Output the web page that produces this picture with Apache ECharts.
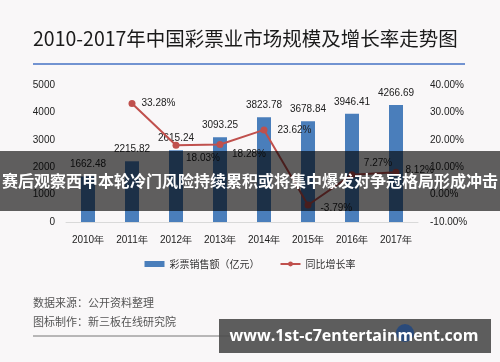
<!DOCTYPE html>
<html><head><meta charset="utf-8">
<script src="https://cdn.jsdelivr.net/npm/echarts@6/dist/echarts.min.js"></script>
<style>html,body{margin:0;padding:0;background:#f9f7f8}#c{width:500px;height:362px}</style>
</head><body><div id="c"></div>
<script>
var categories = ['2010年','2011年','2012年','2013年','2014年','2015年','2016年','2017年'];
var salesValues = [1662.48, 2215.82, 2615.24, 3093.25, 3823.78, 3678.84, 3946.41, 4266.69];
var growthValues = [null, 33.28, 18.03, 18.28, 23.62, -3.79, 7.27, 8.12];
var leftTicks = [0, 1000, 2000, 3000, 4000, 5000];
var rightTicks = [-10, 0, 10, 20, 30, 40];

var growthLabelPos = [null, 'right', 'bottom', 'bottom', 'right', 'right', 'top', 'right'];
var growthLabelOffset = [null, [0,0], [27,-1], [29,-5], [4,0], [3,3], [26,3], [0,-2]];
var growthData = growthValues.map(function(v, i){
  if (v === null) return '-';
  return {value: v, label: {position: growthLabelPos[i], offset: growthLabelOffset[i]}};
});

var font = "'Liberation Sans', sans-serif";
var cjk = "'Noto Sans CJK SC', sans-serif";
var chart = echarts.init(document.getElementById('c'), null, {renderer:'canvas'});
chart.setOption({
  backgroundColor: '#f9f7f8',
  animation: false,
  grid: {left: 66, right: 82, top: 85, bottom: 140, containLabel: false},
  legend: {
    bottom: 88, left: 'center',
    itemGap: 20, itemWidth: 20, itemHeight: 6,
    textStyle: {fontFamily: cjk, fontSize: 10, color: '#333'},
    data: [{name: '彩票销售额（亿元）', icon: 'rect'}, {name: '同比增长率'}]
  },
  xAxis: {
    type: 'category', data: categories,
    axisLine: {lineStyle: {color: '#d9d9d9'}},
    axisTick: {show: false},
    axisLabel: {interval: 0, fontFamily: font, fontSize: 10, color: '#222', margin: 13}
  },
  yAxis: [{
    type: 'value', min: leftTicks[0], max: leftTicks[leftTicks.length-1], interval: 1000,
    splitLine: {show: false}, axisLine: {show: false}, axisTick: {show: false},
    axisLabel: {fontFamily: font, fontSize: 10, color: '#222', margin: 11,
      formatter: function(v){ return String(v); }}
  }, {
    type: 'value', min: rightTicks[0], max: rightTicks[rightTicks.length-1], interval: 10,
    splitLine: {show: false}, axisLine: {show: false}, axisTick: {show: false},
    axisLabel: {fontFamily: font, fontSize: 10, color: '#222', margin: 12,
      formatter: function(v){ return v.toFixed(2) + '%'; }}
  }],
  series: [{
    name: '彩票销售额（亿元）', type: 'bar', data: salesValues, barWidth: 14,
    itemStyle: {color: '#4a7ebb'},
    label: {show: true, position: 'top', distance: 7, fontFamily: font, fontSize: 10, color: '#222',
      formatter: function(p){ return p.value.toFixed(2); }}
  }, {
    name: '同比增长率', type: 'line', yAxisIndex: 1, data: growthData,
    symbol: 'circle', symbolSize: 7,
    lineStyle: {color: '#c0504d', width: 2}, itemStyle: {color: '#c0504d'},
    label: {show: true, fontFamily: font, fontSize: 10, color: '#222', distance: 6,
      formatter: function(p){ return p.value.toFixed(2) + '%'; }}
  }],
  graphic: [
    {type: 'text', left: 33, top: 29, z: 100, style: {text: '2010-2017年中国彩票业市场规模及增长率走势图', font: "19.5px 'Noto Sans CJK SC', sans-serif", fill: '#1a1a1a'}},
    {type: 'line', z: 100, shape: {x1: 33, y1: 64, x2: 465, y2: 64}, style: {stroke: '#4472c4', lineWidth: 1.5}},
    {type: 'text', left: 33, top: 297, z: 100, style: {text: '数据来源：公开资料整理', font: "11px 'Noto Sans CJK SC', sans-serif", fill: '#555'}},
    {type: 'text', left: 33, top: 316, z: 100, style: {text: '图标制作：新三板在线研究院', font: "11px 'Noto Sans CJK SC', sans-serif", fill: '#555'}},
    {type: 'line', z: 100, shape: {x1: 33, y1: 336, x2: 465, y2: 336}, style: {stroke: '#777', lineWidth: 1}},
    {type: 'rect', z: 110, shape: {x: 0, y: 151, width: 500, height: 60}, style: {fill: 'rgba(0,0,0,0.62)'}},
    {type: 'text', z: 111, x: 250, y: 181, style: {text: '赛后观察西甲本轮冷门风险持续累积或将集中爆发对争冠格局形成冲击', font: "bold 16px 'Noto Sans CJK SC', sans-serif", fill: '#fff', align: 'center', verticalAlign: 'middle'}},
    {type: 'rect', z: 110, shape: {x: 219, y: 319, width: 272, height: 34}, style: {fill: 'rgba(75,75,75,0.9)'}},
    {type: 'circle', z: 111, shape: {cx: 405, cy: 333, r: 9}, style: {fill: 'rgba(30,70,130,0.8)'}},
    {type: 'text', z: 112, x: 354, y: 336, style: {text: 'www.1st-c7entertainment.com', font: "bold 16px 'Open Sans', sans-serif", fill: '#fff', align: 'center', verticalAlign: 'middle'}}
  ]
});
</script></body></html>
